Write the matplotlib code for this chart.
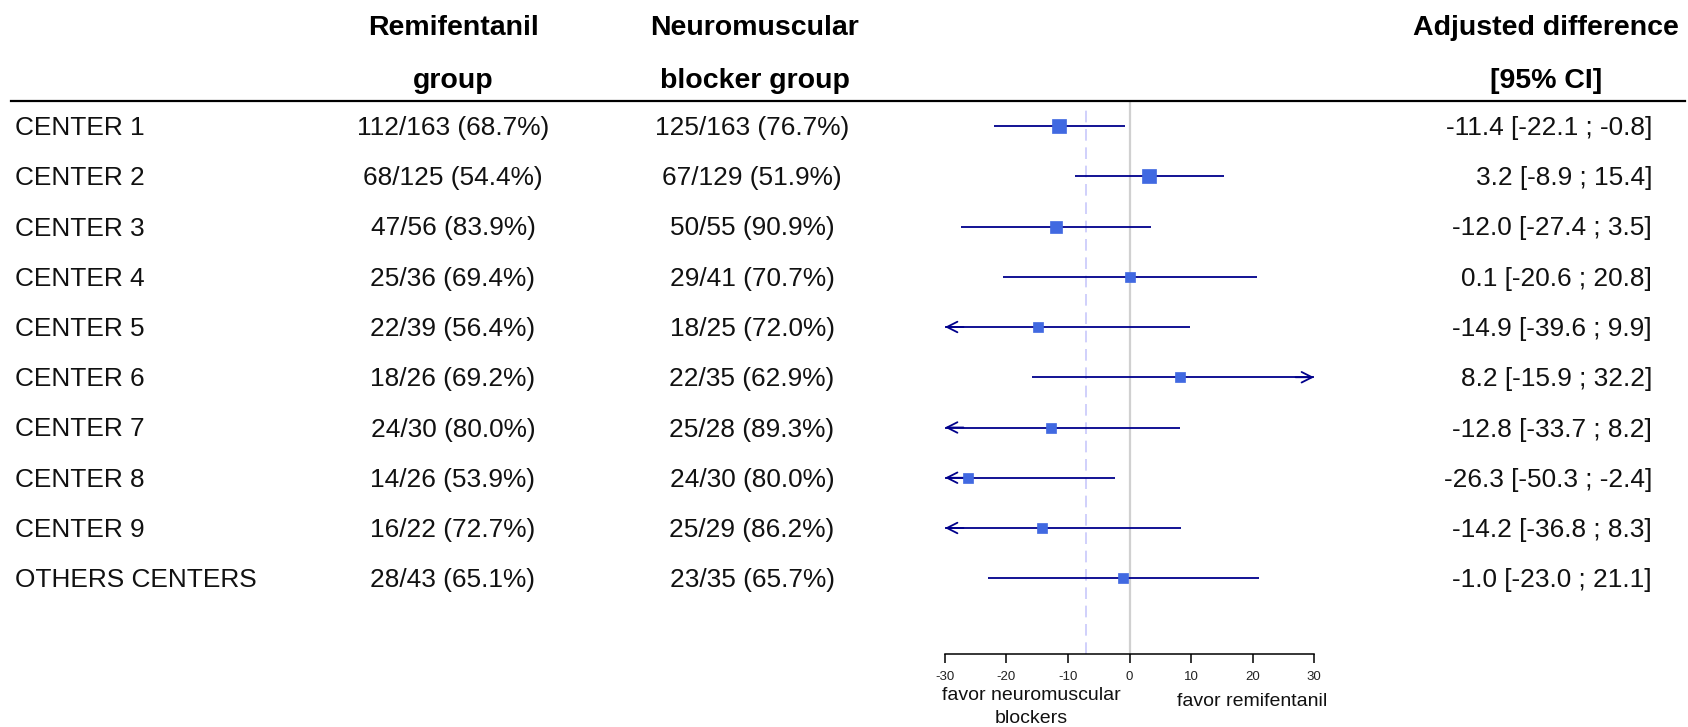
import matplotlib
matplotlib.use("Agg")
import matplotlib.pyplot as plt
import matplotlib.transforms as mtransforms
from matplotlib.lines import Line2D
import numpy as np

plt.rcParams['font.family'] = ['Liberation Sans', 'DejaVu Sans']

# ---------------- data ----------------
centers = ["CENTER 1", "CENTER 2", "CENTER 3", "CENTER 4", "CENTER 5",
           "CENTER 6", "CENTER 7", "CENTER 8", "CENTER 9", "OTHERS CENTERS"]
remi_events = [112, 68, 47, 25, 22, 18, 24, 14, 16, 28]
remi_total = [163, 125, 56, 36, 39, 26, 30, 26, 22, 43]
remi_pct = ["68.7", "54.4", "83.9", "69.4", "56.4", "69.2", "80.0", "53.9", "72.7", "65.1"]
nmb_events = [125, 67, 50, 29, 18, 22, 25, 24, 25, 23]
nmb_total = [163, 129, 55, 41, 25, 35, 28, 30, 29, 35]
nmb_pct = ["76.7", "51.9", "90.9", "70.7", "72.0", "62.9", "89.3", "80.0", "86.2", "65.7"]
diff = [-11.4, 3.2, -12.0, 0.1, -14.9, 8.2, -12.8, -26.3, -14.2, -1.0]
ci_low = [-22.1, -8.9, -27.4, -20.6, -39.6, -15.9, -33.7, -50.3, -36.8, -23.0]
ci_high = [-0.8, 15.4, 3.5, 20.8, 9.9, 32.2, 8.2, -2.4, 8.3, 21.1]
overall_effect = -7.0
x_ticks = [-30, -20, -10, 0, 10, 20, 30]
header_remi = ["Remifentanil", "group"]
header_nmb = ["Neuromuscular", "blocker group"]
header_diff = ["Adjusted difference", "[95% CI]"]
label_left = "favor neuromuscular\nblockers"
label_right = "favor remifentanil"

# ---------------- layout ----------------
W, H = 1688, 727
fig = plt.figure(figsize=(W / 100, H / 100), dpi=100)

ax_left, ax_right = 945, 1314
ax_top, ax_bottom = 101, 654
row0, row_step = 126, 50.25
ax = fig.add_axes([ax_left / W, 1 - ax_bottom / H,
                   (ax_right - ax_left) / W, (ax_bottom - ax_top) / H])
xmin, xmax = -30, 30
ax.set_xlim(xmin, xmax)
ax.set_ylim((ax_bottom - row0) / row_step, (ax_top - row0) / row_step)
for s in ["left", "right", "top"]:
    ax.spines[s].set_visible(False)
ax.spines["bottom"].set_linewidth(1.1)
ax.set_yticks([])
ax.set_xticks(x_ticks)
ax.set_xticklabels([str(t) for t in x_ticks])
ax.tick_params(axis="x", length=6.5, width=1.1, pad=6, labelsize=9.5,
               labelcolor="#222222")
ax.patch.set_alpha(0)

# reference lines
ax.axvline(0, color="#d0d0d0", lw=1.6, zorder=1)
ax.axvline(overall_effect, ymin=0, ymax=(ax_bottom - 105) / (ax_bottom - ax_top),
           color="#c8c8fb", lw=1.2, dashes=(7, 4), zorder=1)

line_col = "#00008B"
box_col = "#4169E1"
y = np.arange(len(centers))
for i in range(len(centers)):
    lo, hi, d = ci_low[i], ci_high[i], diff[i]
    lo_c, hi_c = max(lo, xmin), min(hi, xmax)
    ax.plot([lo_c, hi_c], [y[i], y[i]], color=line_col, lw=1.3,
            solid_capstyle="butt", zorder=2)
    arrow = dict(arrowstyle="->,head_length=0.75,head_width=0.38", color=line_col,
                 lw=1.3, shrinkA=0, shrinkB=0)
    if lo < xmin:
        ax.annotate("", xy=(xmin, y[i]), xytext=(xmin + 3, y[i]), arrowprops=arrow,
                    annotation_clip=False)
    if hi > xmax:
        ax.annotate("", xy=(xmax, y[i]), xytext=(xmax - 3, y[i]), arrowprops=arrow,
                    annotation_clip=False)
    box_px = 69 / np.sqrt(hi - lo)
    ax.plot([d], [y[i]], marker="s", ms=box_px * 0.72, color=box_col,
            mec=box_col, mew=0.5, zorder=3, clip_on=False)

# axis labels under the forest plot
tx = mtransforms.blended_transform_factory(ax.transData, fig.transFigure)
ax.text(-16, 1 - 707 / H, label_left, transform=tx, ha="center", va="center",
        fontsize=14, linespacing=1.4, color="#111111")
ax.text(20, 1 - 701 / H, label_right, transform=tx, ha="center", va="center",
        fontsize=14, color="#111111")

# table columns
row_tr = mtransforms.blended_transform_factory(fig.transFigure, ax.transData)
row_tr = mtransforms.offset_copy(row_tr, fig=fig, x=0, y=-9, units="dots")
fs = 18.9
for i in range(len(centers)):
    ax.text(15 / W, y[i], centers[i], transform=row_tr, ha="left", va="baseline",
            fontsize=fs, color="#111111")
    ax.text(453 / W, y[i], f"{remi_events[i]}/{remi_total[i]} ({remi_pct[i]}%)",
            transform=row_tr, ha="center", va="baseline", fontsize=fs, color="#111111")
    ax.text(752 / W, y[i], f"{nmb_events[i]}/{nmb_total[i]} ({nmb_pct[i]}%)",
            transform=row_tr, ha="center", va="baseline", fontsize=fs, color="#111111")
    ax.text(1652 / W, y[i], f"{diff[i]:.1f} [{ci_low[i]:.1f} ; {ci_high[i]:.1f}]",
            transform=row_tr, ha="right", va="baseline", fontsize=fs, color="#111111")

# headers
hfs = 20.5
for k, base in enumerate([35, 88]):
    fig.text(453 / W, 1 - base / H, header_remi[k], ha="center", va="baseline",
             fontsize=hfs, fontweight="bold")
    fig.text(755 / W, 1 - base / H, header_nmb[k], ha="center", va="baseline",
             fontsize=hfs, fontweight="bold")
    fig.text(1546 / W, 1 - base / H, header_diff[k], ha="center", va="baseline",
             fontsize=hfs, fontweight="bold")

fig.add_artist(Line2D([11 / W, 1685 / W], [1 - ax_top / H, 1 - ax_top / H],
                      transform=fig.transFigure, color="black", lw=1.6))

fig.savefig("out.png", dpi=100)
